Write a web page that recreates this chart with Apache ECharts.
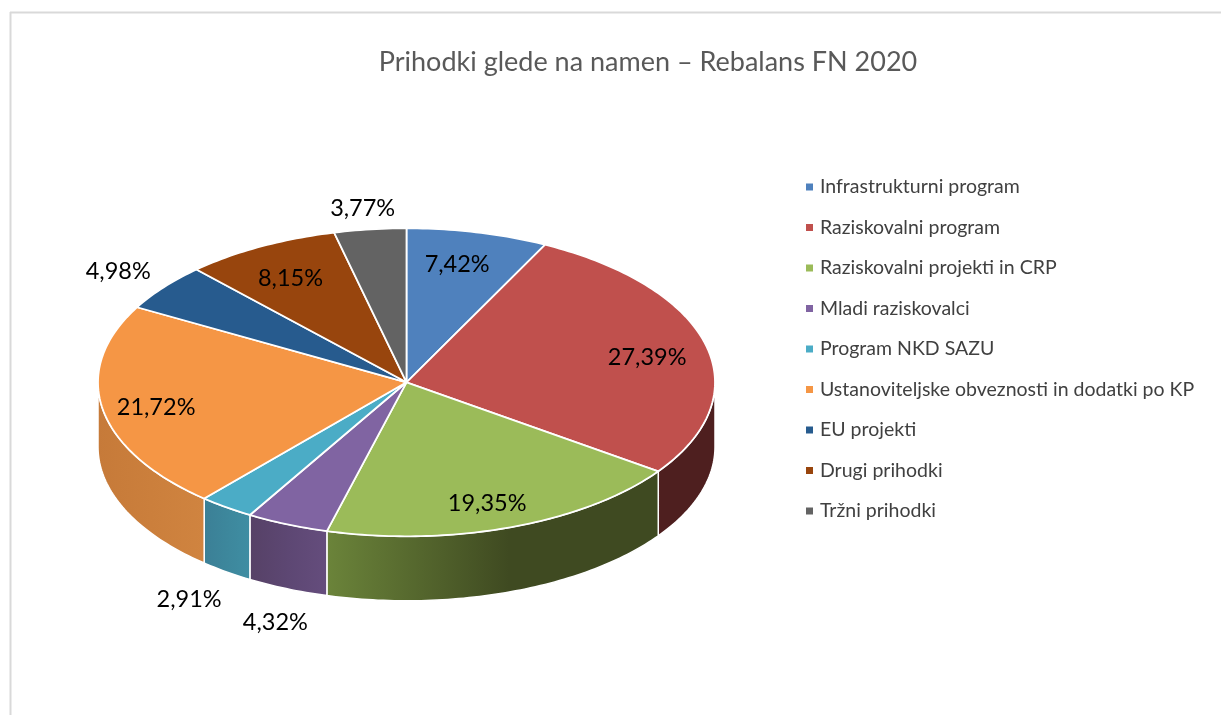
<!DOCTYPE html>
<html>
<head>
<meta charset="utf-8">
<title>Prihodki glede na namen</title>
<script src="https://cdn.jsdelivr.net/npm/echarts@6/dist/echarts.min.js"></script>
<style>
  html, body { margin: 0; padding: 0; background: #fff; }
  #main { width: 1221px; height: 715px; }
</style>
</head>
<body>
<div id="main"></div>
<script>
const categories = ['Infrastrukturni program', 'Raziskovalni program', 'Raziskovalni projekti in CRP', 'Mladi raziskovalci', 'Program NKD SAZU', 'Ustanoviteljske obveznosti in dodatki po KP', 'EU projekti', 'Drugi prihodki', 'Tržni prihodki'];
const values = [7.42, 27.39, 19.35, 4.32, 2.91, 21.72, 4.98, 8.15, 3.77];
const topColors = ['#4f81bd', '#c0504d', '#9bbb59', '#8064a2', '#4bacc6', '#f59645', '#275b8e', '#98450d', '#636363'];
// left / middle / right of the visible wall
const wallColors = [null, ['#4e1f1f', '#4e1f1f', '#4e1f1f'], ['#6b843a', '#3f4a21', '#3f4a21'], ['#654d7d', '#5d4773', '#564166'], ['#3f8ea3', '#3d879c', '#3b7f96'], ['#d08440', '#cb7f3c', '#c67a39'], null, null, null];
// label distance from centre (1 = on the rim) and turn away from the slice middle, degrees
const labelRadius = [0.78, 0.797, 0.83, 1.218, 1.215, 0.828, 1.18, 0.775, 1.136];
const labelTurn = [-1.2, 2.2, 1.5, -2.3, -0.3, -1.5, -0.5, -0.8, -0.4];

const cx = 406.5, cy = 382.3, rx = 308.5, ry = 154, depth = 64.5;
const total = values.reduce((a, b) => a + b, 0);
const starts = [];
values.reduce((acc, v, i) => { starts[i] = acc; return acc + v; }, 0);

function toDeg(v) { return v / total * 360; }
function rim(deg, dy) {
    let t = deg * Math.PI / 180;
    return [cx + rx * Math.sin(t), cy - ry * Math.cos(t) + dy];
}
function arc(from, to, dy) {
    let pts = [];
    for (let a = from; a < to; a += 1) pts.push(rim(a, dy));
    pts.push(rim(to, dy));
    return pts;
}

function renderSlice(i) {
    let from = toDeg(starts[i]), to = toDeg(starts[i] + values[i]);
    let children = [];

    let wFrom = Math.max(from, 90), wTo = Math.min(to, 270);
    if (wFrom < wTo && wallColors[i]) {
        let c = wallColors[i];
        children.push({
            type: 'polygon',
            shape: { points: arc(wFrom, wTo, 0).concat(arc(wFrom, wTo, depth).reverse()) },
            style: {
                fill: new echarts.graphic.LinearGradient(0, 0, 1, 0, [
                    { offset: 0, color: i === 2 ? c[0] : c[2] },
                    { offset: i === 2 ? 0.55 : 0.5, color: c[1] },
                    { offset: 1, color: i === 2 ? c[2] : c[0] }
                ]),
                stroke: '#fff',
                lineWidth: 1.5
            }
        });
    }

    children.push({
        type: 'polygon',
        shape: { points: [[cx, cy]].concat(arc(from, to, 0)) },
        style: { fill: topColors[i], stroke: '#fff', lineWidth: 1.8, lineJoin: 'round' }
    });

    let mid = (from + to) / 2, t = (mid + labelTurn[i]) * Math.PI / 180, f = labelRadius[i];
    let front = f > 1 && mid > 90 && mid < 270;
    children.push({
        type: 'text',
        z2: 10,
        style: {
            text: values[i].toFixed(2).replace('.', ',') + '%',
            x: cx + rx * f * Math.sin(t),
            y: cy - ry * f * Math.cos(t) + (front ? depth : 0),
            align: 'center',
            verticalAlign: 'middle',
            font: '23.5px Lato',
            fill: '#000'
        }
    });
    return { type: 'group', children: children };
}

let chart = echarts.init(document.getElementById('main'));
let option = {
    animation: false,
    backgroundColor: '#fff',
    title: {
        text: 'Prihodki glede na namen – Rebalans FN 2020',
        left: 643,
        top: 44,
        textAlign: 'center',
        textStyle: { fontFamily: 'Lato', fontSize: 27, fontWeight: 'normal', color: '#595959' }
    },
    legend: {
        orient: 'vertical',
        left: 806,
        top: 177,
        padding: 0,
        icon: 'rect',
        itemWidth: 7,
        itemHeight: 7,
        itemGap: 20.5,
        selectedMode: false,
        data: categories,
        textStyle: { fontFamily: 'Lato', fontSize: 19.5, color: '#404040', lineHeight: 20, padding: [0, 0, 0, 2] }
    },
    graphic: [
        { type: 'line', shape: { x1: 10.5, y1: 12, x2: 10.5, y2: 715 }, style: { stroke: '#d9d9d9', lineWidth: 2 } },
        { type: 'line', shape: { x1: 10, y1: 12.5, x2: 1221, y2: 12.5 }, style: { stroke: '#d9d9d9', lineWidth: 2 } }
    ],
    series: categories.map((name, i) => ({
        type: 'custom',
        name: name,
        coordinateSystem: 'none',
        silent: true,
        itemStyle: { color: topColors[i] },
        data: [[values[i]]],
        renderItem: () => renderSlice(i)
    }))
};
chart.setOption(option);
</script>
</body>
</html>
